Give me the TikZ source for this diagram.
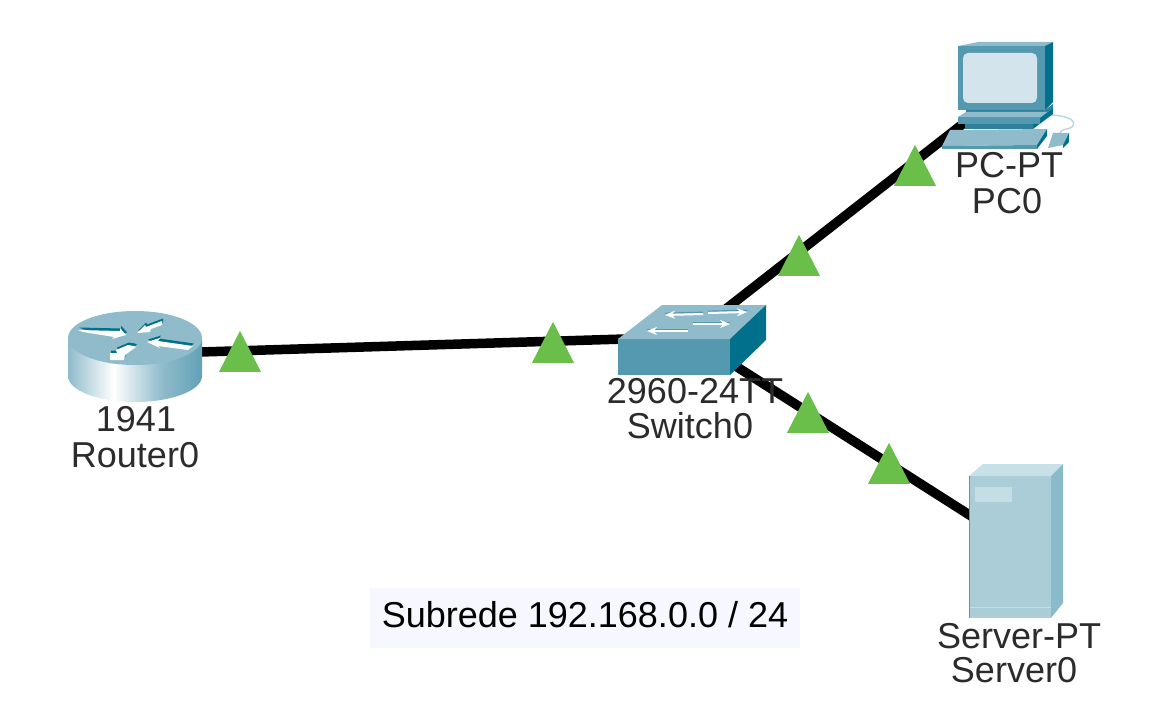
\documentclass[tikz,border=0pt]{standalone}
\usepackage{fontspec}
\setmainfont{Liberation Sans}
\usepackage{tikz}
\usetikzlibrary{positioning, shapes.geometric, arrows.meta}

\definecolor{cpTop}{HTML}{8FBBCB}
\definecolor{cpFront}{HTML}{5499B0}
\definecolor{cpDark}{HTML}{00708C}
\definecolor{cpMid}{HTML}{2F809B}
\definecolor{cpScreen}{HTML}{D3E4EC}
\definecolor{cpCord}{HTML}{BBD8E2}
\definecolor{srvFront}{HTML}{ABCDD8}
\definecolor{srvTop}{HTML}{C8E0E7}
\definecolor{srvSide}{HTML}{8ABBCB}
\definecolor{srvBay}{HTML}{C5DDE5}
\definecolor{linkGreen}{HTML}{6ABF4B}
\definecolor{labelGrey}{HTML}{2B2B2B}
\definecolor{noteBack}{HTML}{F7F8FF}

\pgfdeclarehorizontalshading{routerside}{100bp}{
  color(0bp)=(cpFront); color(25bp)=(cpTop); color(42bp)=(white);
  color(60bp)=(cpTop); color(80bp)=(cpFront); color(100bp)=(cpDark)}

\newcommand{\routerarrow}[1]{
  \fill[cpDark, shift={(1,-2.5)}] #1 -- cycle;
  \fill[white] #1 -- cycle;
}

\tikzset{
  device/.style={minimum width=#1, minimum height=30pt, inner sep=0pt},
  link/.style={line width=9.5pt, black},
  linkup/.style={isosceles triangle, shape border rotate=90, isosceles triangle stretches,
    minimum width=42pt, minimum height=41pt, inner sep=0pt, fill=linkGreen},
  label/.style={anchor=base, text=labelGrey, inner sep=0pt, font=\fontsize{36}{38}\selectfont},
  toparrow/.style={-{Stealth[length=10pt, width=8pt]}, white, line width=2pt},
  topshadow/.style={cpFront, line width=1.2pt}
}

\begin{document}
\begin{tikzpicture}[x=1pt, y=-1pt]
    \useasboundingbox (0,0) rectangle (1156,714);

    % the four devices, the cables start in their middle
    \node[device=130pt] (router) at (135,354) {};
    \node[device=140pt] (switch) at (690,337) {};
    \node[device=90pt] (pc) at (1005,91) {};
    \node[device=90pt] (server) at (1015,544) {};

    \draw[link] (router.center) -- (switch.center);
    \draw[link] (switch.center) -- (pc.center);
    \draw[link] (switch.center) -- (server.center);

    % router
    \shade[shading=routerside] (68,338) -- (68,376) arc[start angle=180, end angle=0, x radius=67, y radius=26] -- (202,338) -- cycle;
    \fill[cpTop] (135,338) ellipse[x radius=67, y radius=27];
    \routerarrow{(78,330) -- (120,331) -- (120,328) -- (126,335) -- (112,339) -- (114,337) -- (83,332)}
    \routerarrow{(162,321) -- (162,325) -- (151,329) -- (150,332) -- (137,333) -- (145,325) -- (146,327)}
    \routerarrow{(147,342) -- (160,338) -- (158,341) -- (193,346) -- (188,350) -- (158,346) -- (160,348)}
    \routerarrow{(134,346) -- (136,347) -- (125,355) -- (124,360) -- (110,360) -- (110,353) -- (117,353) -- (116,350) -- (128,345)}

    % switch
    \fill[cpFront] (618,339) rectangle (730,375);
    \fill[cpTop] (618,339) -- (662,305) -- (766,305) -- (730,339) -- cycle;
    \fill[cpDark] (730,339) -- (766,305) -- (766,340) -- (730,375) -- cycle;
    \foreach \xa/\ya/\xb/\yb in {703/314/665/315,708/313/747/312,688/331/647/331,693/324/730/324} {
      \draw[topshadow] (\xa,\ya-1.8) -- (\xb,\yb-1.8);
      \draw[toparrow] (\xa,\ya) -- (\xb,\yb);
    };

    % pc
    \draw[cpCord, line width=1.5pt] (1048,115) .. controls (1066,115) and (1078,120) .. (1072,127) .. controls (1068,130) and (1060,129) .. (1060,133);
    \fill[cpFront] (958,46) rectangle (1045,110);
    \fill[cpTop] (958,46) -- (978,42) -- (1053,42) -- (1045,46) -- cycle;
    \fill[cpDark] (1045,46) -- (1053,42) -- (1053,102) -- (1045,110) -- cycle;
    \fill[cpScreen, rounded corners=5pt] (963,53) rectangle (1037,103);
    \fill[cpMid] (966,110) -- (1045,110) -- (1053,104) -- (1053,108) -- (1040,118) -- (966,118) -- cycle;
    \fill[cpTop] (958,117) -- (966,112) -- (1050,112) -- (1040,118) -- cycle;
    \fill[cpFront] (958,117) rectangle (1040,124);
    \fill[cpMid] (965,124) rectangle (1033,129);
    \fill[cpDark] (1040,118) -- (1053,108) -- (1053,114) -- (1033,129) -- (1033,124) -- (1040,124) -- cycle;
    \fill[cpTop] (950,130) -- (1047,129) -- (1037,145) -- (942,146) -- cycle;
    \fill[cpFront] (942,146) -- (1037,145) -- (1037,149) -- (942,149) -- cycle;
    \fill[cpDark] (1037,145) -- (1047,129) -- (1047,136) -- (1037,149) -- cycle;
    \fill[cpTop] (1053,133) -- (1069,133) -- (1063,145) -- (1048,148) -- cycle;
    \fill[cpDark] (1063,145) -- (1069,133) -- (1069,142) -- (1063,148) -- cycle;

    % server
    \fill[srvFront] (969,476) rectangle (1051,618);
    \fill[srvTop] (969,476) -- (983,464) -- (1063,464) -- (1051,476) -- cycle;
    \fill[srvSide] (1051,476) -- (1063,464) -- (1063,603) -- (1051,618) -- cycle;
    \fill[srvBay] (975,487) rectangle (1012,502);
    \draw[srvBay, line width=.8pt] (969,607) -- (1051,607);
    \draw[cpFront, line width=1pt] (969,476) -- (969,618);

    % link state markers
    \foreach \n/\x/\y in {a/240/359,b/553/350,c/799/263,d/915/173,e/808/420,f/889/471} {
      \node[linkup] (mark\n) at (\x,\y) {};
    };

    % device labels
    \node[label] (routertype) at (136,431) {1941};
    \node[label] (routername) at (135,467) {Router0};
    \node[label] (switchtype) at (695,403) {2960-24TT};
    \node[label] (switchname) at (690,438) {Switch0};
    \node[label] (pctype) at (1009,178) {PC-PT};
    \node[label] (pcname) at (1007,214) {PC0};
    \node[label] (servertype) at (1019,648) {Server-PT};
    \node[label] (servername) at (1014,682) {Server0};

    % note
    \fill[noteBack] (370,588) rectangle (800,648);
    \node[label, text=black] (note) at (585,627) {Subrede 192.168.0.0 / 24};
\end{tikzpicture}
\end{document}
